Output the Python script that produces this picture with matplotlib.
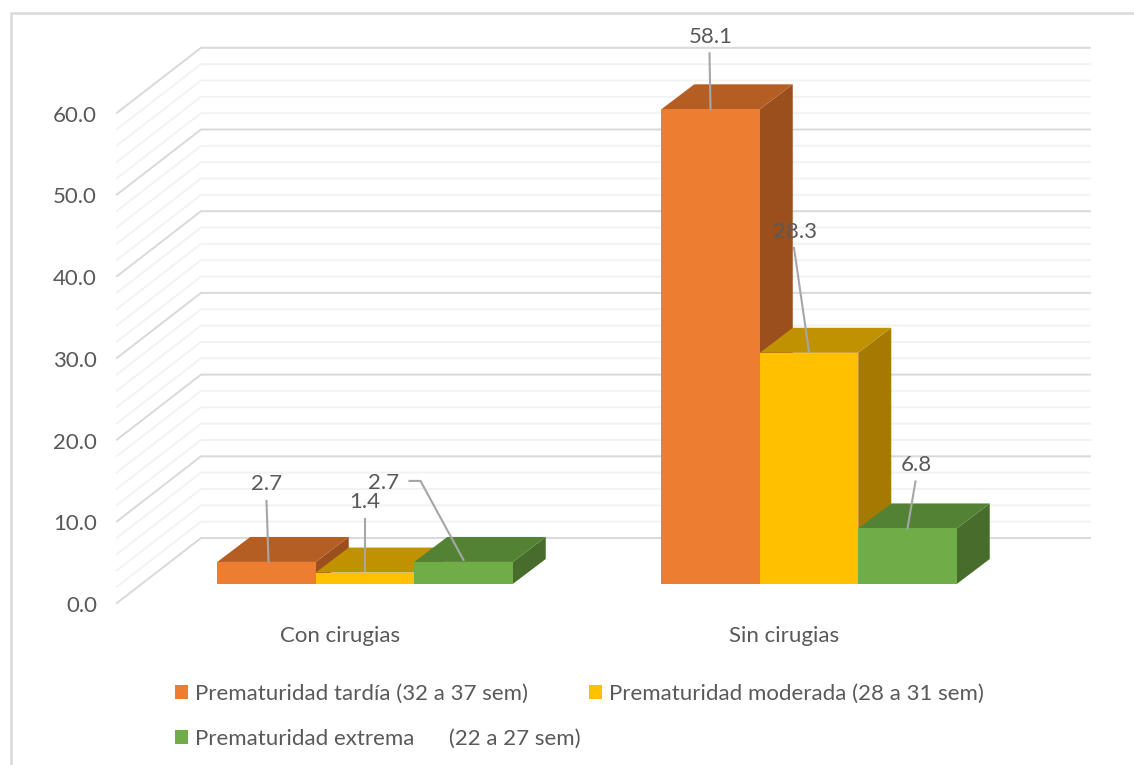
import matplotlib
matplotlib.use("Agg")
import matplotlib.pyplot as plt
import numpy as np

categories = ["Con cirugias", "Sin cirugias"]
series_names = ["Prematuridad tardía (32 a 37 sem)",
                "Prematuridad moderada (28 a 31 sem)",
                "Prematuridad extrema      (22 a 27 sem)"]
tardia = [2.7, 58.1]
moderada = [1.4, 28.3]
extrema = [2.7, 6.8]
y_ticks = [0, 10, 20, 30, 40, 50, 60]

# layout, in pixels of the 1134x765 picture
W, H = 1134, 765
PX_CAT = 444.0      # distance between the two groups
PX_VAL = 8.17       # pixels for one unit of y
CAT0_X = 365.0
BASE_Y = 584.0      # front edge of the bars
BAR_W = 98.5
DEPTH_X, DEPTH_Y = 33.0, 25.0

colors = ["#ED7D31", "#FFC000", "#70AD47"]
top_colors = ["#B55E23", "#C09100", "#548235"]
side_colors = ["#9A4F1C", "#A47B00", "#476D2C"]
text_color = "#595959"
leader_color = "#A6A6A6"
fs = 16


def dx(px):
    return px / PX_CAT


def dy(px):
    return px / PX_VAL


plt.rcParams["font.family"] = ["Lato", "DejaVu Sans"]
fig = plt.figure(figsize=(W / 100, H / 100), dpi=100)
ax = fig.add_axes([0, 0, 1, 1])
ax.set_xlim(-CAT0_X / PX_CAT, (W - CAT0_X) / PX_CAT)
ax.set_ylim((BASE_Y - H) / PX_VAL, BASE_Y / PX_VAL)
ax.axis("off")

# chart border (left and top only are inside the crop)
ax.plot([dx(11 - CAT0_X), dx(11 - CAT0_X), dx(W - CAT0_X)],
        [dy(BASE_Y - H), dy(BASE_Y - 13), dy(BASE_Y - 13)],
        color="#D9D9D9", lw=1.8, zorder=1, solid_joinstyle="miter")

# walls: gridlines run on the side wall and then along the back wall
front_x, back_x, end_x = dx(117 - CAT0_X), dx(201 - CAT0_X), dx(1090 - CAT0_X)
front_y0, back_y0 = dy(BASE_Y - 603), dy(BASE_Y - 538)
for v in np.arange(0, 61, 2):
    major = v % 10 == 0
    ax.plot([front_x, back_x, end_x],
            [front_y0 + v, back_y0 + v, back_y0 + v],
            color="#D9D9D9" if major else "#F2F2F2",
            lw=1.4, zorder=2, solid_joinstyle="miter")

for v in y_ticks:
    ax.text(dx(97 - CAT0_X), front_y0 + v + dy(-3), f"{v:.1f}", ha="right",
            va="center", color=text_color, fontsize=fs)

for i, c in enumerate(categories):
    ax.text(i + dx(-25), dy(BASE_Y - 636), c, ha="center", va="center",
            color=text_color, fontsize=fs)

# bars, left to right so each one covers the side of the previous one
all_series = [tardia, moderada, extrema]
w = dx(BAR_W)
ddx, ddy = dx(DEPTH_X), dy(DEPTH_Y)
handles = []
for s, vals in enumerate(all_series):
    x = np.arange(len(categories)) + (s - 1) * w
    z = 5 + s
    for xi, v in zip(x, vals):
        ax.fill([xi + w / 2, xi + w / 2 + ddx, xi + w / 2 + ddx, xi + w / 2],
                [0, ddy, v + ddy, v], color=side_colors[s], lw=0, zorder=z)
        ax.fill([xi - w / 2, xi + w / 2, xi + w / 2 + ddx, xi - w / 2 + ddx],
                [v, v, v + ddy, v + ddy], color=top_colors[s], lw=0, zorder=z)
    bars = ax.bar(x, vals, width=w, color=colors[s], label=series_names[s],
                  zorder=z + 0.5)
    handles.append(bars)

# label text offset and leader points, pixels from the middle of each bar front top
label_offsets = {
    (0, 0): ((0, 78), [(2, 1), (0, 61)]),
    (0, 1): ((0, 71), [(0, 2), (0, 54)]),
    (0, 2): ((-80, 79), [(0, 2), (-43, 81), (-54, 81)]),
    (1, 0): ((0, 72), [(0, 0), (-1, 56)]),
    (1, 1): ((-14, 121), [(0, 1), (-15, 105)]),
    (1, 2): ((9, 63), [(0, 0), (8, 47)]),
}
for (c, s), (txt, pts) in label_offsets.items():
    xi = c + (s - 1) * w
    v = all_series[s][c]
    ax.plot([xi + dx(p[0]) for p in pts], [v + dy(p[1]) for p in pts],
            color=leader_color, lw=1.5, zorder=20)
    ax.text(xi + dx(txt[0]), v + dy(txt[1]), f"{v:.1f}", ha="center",
            va="center", color=text_color, fontsize=fs, zorder=21)

leg = ax.legend([handles[0], handles[2], handles[1]],
                [series_names[0], series_names[2], series_names[1]],
                ncol=2, loc="upper left", bbox_to_anchor=(175 / W, 1 - 684 / H),
                frameon=False, fontsize=fs, labelcolor=text_color,
                borderpad=0, borderaxespad=0, handlelength=0.58, handleheight=0.58,
                handletextpad=0.33, columnspacing=0.35, labelspacing=1.1)

fig.savefig("out.png", dpi=100, facecolor="white")
